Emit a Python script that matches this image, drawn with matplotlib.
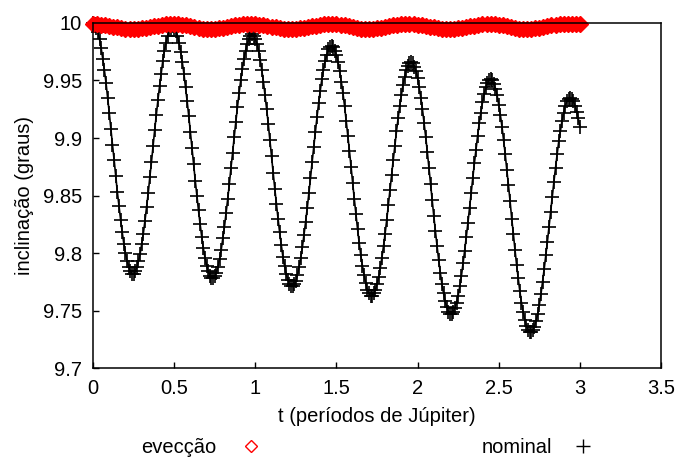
import numpy as np
import matplotlib
matplotlib.use('Agg')
import matplotlib.pyplot as plt
import matplotlib.ticker as ticker
from matplotlib.lines import Line2D

plt.rcParams['font.family'] = ['Liberation Sans', 'DejaVu Sans']

# nominal inclination, thousandths of a degree above 9 deg, one value every 0.01 period
nominal_mdeg = [
    # 0.00 - 0.48
    1000, 999, 996, 992, 986, 978, 969, 959, 948, 935, 922, 908, 894, 881, 867, 853, 841, 829, 818, 808, 800, 793, 788, 784, 782,
    782, 784, 788, 793, 799, 808, 817, 828, 840, 852, 866, 879, 893, 907, 920, 933, 945, 956, 967, 976, 983, 989, 994, 996,
    # 0.49 - 0.97
    997, 996, 993, 989, 983, 975, 966, 956, 944, 932, 919, 905, 891, 877, 863, 850, 837, 825, 814, 804, 796, 789, 784, 780, 778,
    778, 780, 783, 788, 795, 803, 813, 823, 835, 847, 860, 874, 887, 901, 914, 927, 939, 950, 960, 969, 976, 982, 986, 989,
    # 0.98 - 1.46
    990, 989, 986, 982, 976, 968, 959, 949, 937, 925, 912, 898, 884, 870, 856, 843, 830, 818, 807, 797, 789, 782, 777, 773, 771,
    771, 773, 776, 781, 788, 796, 805, 816, 827, 839, 852, 865, 879, 892, 905, 918, 930, 941, 951, 959, 967, 972, 977, 979,
    # 1.47 - 1.95
    980, 979, 976, 972, 966, 958, 949, 939, 928, 915, 902, 889, 875, 861, 847, 834, 821, 809, 798, 789, 781, 774, 768, 765, 763,
    763, 765, 768, 773, 779, 787, 796, 806, 817, 829, 842, 855, 868, 881, 893, 906, 917, 928, 937, 946, 953, 959, 963, 965,
    # 1.96 - 2.44
    966, 965, 962, 958, 952, 944, 935, 925, 913, 901, 888, 874, 860, 846, 832, 819, 806, 794, 783, 773, 765, 758, 753, 749, 747,
    747, 749, 752, 757, 763, 771, 780, 791, 802, 814, 826, 839, 852, 865, 878, 890, 902, 913, 922, 931, 938, 944, 948, 950,
    # 2.45 - 2.93
    951, 950, 947, 943, 937, 929, 920, 910, 898, 886, 872, 859, 845, 830, 817, 803, 790, 778, 767, 757, 749, 742, 737, 733, 731,
    731, 733, 736, 741, 747, 755, 764, 775, 786, 798, 810, 823, 836, 849, 862, 874, 886, 897, 906, 915, 922, 928, 932, 934,
    # 2.94 - 3.00
    935, 934, 932, 928, 923, 917, 910,
]
nominal_step = 0.01

# eveccao run, thousandths of a degree relative to 10 deg, one value every 0.025 period
evec_mdeg = [
    -1.0, -1.1, -1.4, -1.9, -2.5, -3.2, -3.9, -4.5, -4.9, -5.2, -5.3, -5.1, -4.8, -4.3, -3.6, -2.9, -2.3, -1.7, -1.3, -1.05,
    -1.0, -1.2, -1.6, -2.2, -2.9, -3.7, -4.4, -4.9, -5.2, -5.3, -5.1, -4.8, -4.2, -3.6, -2.9, -2.2, -1.6, -1.2, -1.05,
    -1.0, -1.1, -1.4, -1.9, -2.5, -3.2, -3.9, -4.5, -4.9, -5.2, -5.3, -5.1, -4.8, -4.3, -3.6, -2.9, -2.3, -1.7, -1.3, -1.05,
    -1.0, -1.2, -1.6, -2.2, -2.9, -3.7, -4.4, -4.9, -5.2, -5.3, -5.1, -4.8, -4.2, -3.6, -2.9, -2.2, -1.6, -1.2, -1.05,
    -1.0, -1.1, -1.4, -1.9, -2.5, -3.2, -3.9, -4.5, -4.9, -5.2, -5.3, -5.1, -4.8, -4.3, -3.6, -2.9, -2.3, -1.7, -1.3, -1.05,
    -1.0, -1.2, -1.6, -2.2, -2.9, -3.7, -4.4, -4.9, -5.2, -5.3, -5.1, -4.8, -4.2, -3.6, -2.9, -2.2, -1.6, -1.2, -1.05,
    -1.05, -1.0, -0.9, -0.6,
]
evec_step = 0.025

xticks = [0, 0.5, 1, 1.5, 2, 2.5, 3, 3.5]
yticks = [9.7, 9.75, 9.8, 9.85, 9.9, 9.95, 10]

t_nom = np.arange(len(nominal_mdeg)) * nominal_step
i_nom = 9 + np.array(nominal_mdeg) / 1000.0
t_evec = np.arange(len(evec_mdeg)) * evec_step
i_evec = 10 + np.array(evec_mdeg) / 1000.0

fs = 14.5
fig = plt.figure(figsize=(6.79, 4.59), dpi=100)
ax = fig.add_axes([0.137, 0.198, 0.9735 - 0.137, 0.950 - 0.198])

# eveccao band
ax.plot(t_evec, i_evec, linestyle='none', marker='D', ms=8.5, mfc='red', mec='red',
        mew=1, clip_on=False, zorder=3)
# nominal
ax.plot(t_nom, i_nom, color='black', lw=1.2, zorder=2, clip_on=False)
ax.plot(t_nom, i_nom, linestyle='none', marker='+', ms=10.5, mew=1.2, color='black',
        clip_on=False, zorder=2)

ax.set_xlim(0, 3.5)
ax.set_ylim(9.7, 10)
ax.set_xticks(xticks)
ax.set_yticks(yticks)
ax.xaxis.set_major_formatter(ticker.FormatStrFormatter('%g'))
ax.yaxis.set_major_formatter(ticker.FormatStrFormatter('%g'))
ax.tick_params(direction='in', length=4, width=1, labelsize=fs, top=False, right=False)
ax.tick_params(axis='x', pad=8)
ax.tick_params(axis='y', pad=8)
for s in ax.spines.values():
    s.set_linewidth(1.1)
    s.set_zorder(4)

ax.set_xlabel('t (períodos de Júpiter)', fontsize=fs, labelpad=6)
ax.set_ylabel('inclinação (graus)', fontsize=fs, labelpad=6)

# keys below the plot
h_evec = Line2D([], [], linestyle='none', marker='D', ms=6.5, mfc='none', mec='red', mew=1)
h_nom = Line2D([], [], linestyle='none', marker='+', ms=10, mew=1, color='black')
fig.legend([h_evec], ['evecção'], loc='center left', bbox_to_anchor=(0.208, 0.024),
           frameon=False, markerfirst=False, handlelength=1, handletextpad=1.2,
           borderpad=0, borderaxespad=0, fontsize=fs)
fig.legend([h_nom], ['nominal'], loc='center left', bbox_to_anchor=(0.710, 0.024),
           frameon=False, markerfirst=False, handlelength=1, handletextpad=1.0,
           borderpad=0, borderaxespad=0, fontsize=fs)

plt.savefig('out.png', dpi=100)
plt.close()
